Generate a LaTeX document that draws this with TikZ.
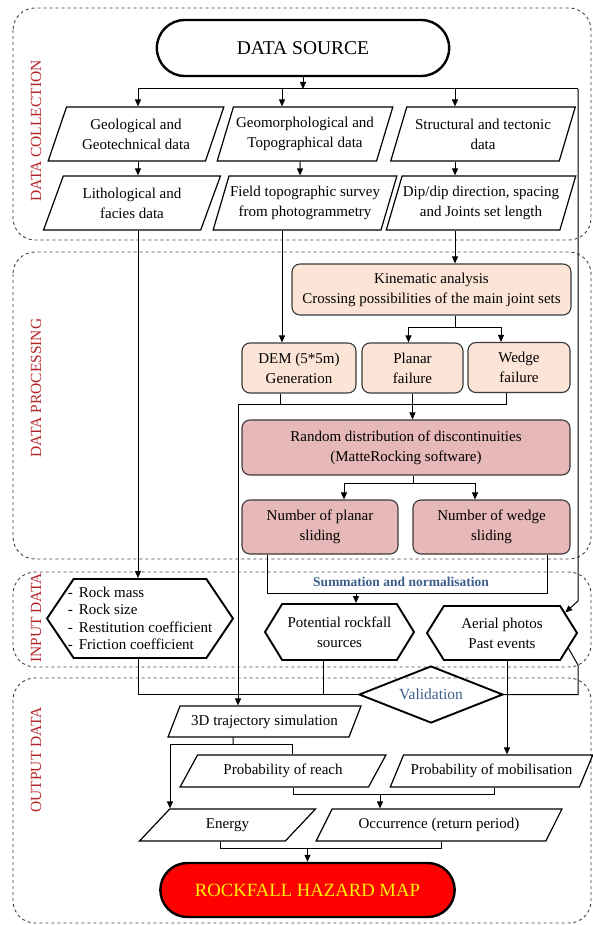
\documentclass[tikz,border=0pt]{standalone}
\usepackage{fontspec}
\setmainfont{Liberation Serif}
\usetikzlibrary{shapes.geometric, shapes.misc, shapes.symbols, arrows.meta, positioning}
\definecolor{peach}{HTML}{FCE4D6}
\definecolor{rose}{HTML}{E6B8B7}
\definecolor{labelred}{HTML}{B3262A}
\definecolor{noteblue}{HTML}{3B5E8C}
\definecolor{boxedge}{HTML}{3A3A3A}

\begin{document}
\begin{tikzpicture}[x=1pt, y=-1pt, line width=1pt]
\tikzset{
    >={Triangle[length=7pt,width=6pt]},
    every node/.style={font=\fontsize{15}{20}\selectfont, align=center},
    terminal/.style={rounded rectangle, draw, line width=2.4pt, minimum width=299, minimum height=56, font=\fontsize{19.5}{22}\selectfont},
    datapara/.style={trapezium, trapezium left angle=66, trapezium right angle=114, trapezium stretches=true, draw, line width=1.2pt, minimum height=54, inner sep=1pt},
    outpara/.style={datapara, trapezium left angle=52, trapezium right angle=128, minimum height=32},
    procbox/.style={draw=boxedge, rounded corners=8, line width=1.1pt, fill=peach},
    randbox/.style={procbox, fill=rose},
    hexbox/.style={signal, signal to=east and west, draw, line width=1.9pt, inner sep=1pt},
    zone/.style={draw=black!75, dashed, rounded corners=22, line width=0.9pt},
    zonelabel/.style={rotate=90, text=labelred, font=\fontsize{15.5}{17}\selectfont}
}
\useasboundingbox (0,0) rectangle (593,925);

% Zones
\draw[zone] (13,8) rectangle (591,240);
\draw[zone] (13,252) rectangle (591,559);
\draw[zone] (13,572) rectangle (591,667);
\draw[zone] (13,678) rectangle (591,923);
\node[zonelabel] (collabel) at (36,131) {DATA COLLECTION};
\node[zonelabel] (proclabel) at (36,388) {DATA PROCESSING};
\node[zonelabel] (inlabel) at (36,618) {INPUT DATA};
\node[zonelabel] (outlabel) at (36,760) {OUTPUT DATA};

% Data collection
\node[terminal] (src) at (303,48) {DATA SOURCE};
\node[datapara, minimum width=176] (geo) at (136,134) {Geological and\\Geotechnical data};
\node[datapara, minimum width=176] (geomorph) at (305,134) {Geomorphological and\\Topographical data};
\node[datapara, minimum width=185] (struct) at (483,134) {Structural and tectonic\\data};
\node[datapara, minimum width=177] (litho) at (132,203) {Lithological and\\facies data};
\node[datapara, minimum width=183] (survey) at (305,203) {Field topographic survey\\from photogrammetry};
\node[datapara, minimum width=190] (dip) at (481,203) {Dip/dip direction, spacing\\and Joints set length};

% Data processing
\node[procbox, minimum width=279, minimum height=51] (kine) at (431.5,289.5) {Kinematic analysis\\Crossing possibilities of the main joint sets};
\node[procbox, minimum width=114, minimum height=50] (dem) at (299,368) {DEM (5*5m)\\Generation};
\node[procbox, minimum width=101, minimum height=50] (planar) at (412.5,368) {Planar\\failure};
\node[procbox, minimum width=102, minimum height=50] (wedge) at (519,367.5) {Wedge\\failure};
\node[randbox, minimum width=328, minimum height=55] (random) at (406,447.5) {Random distribution of discontinuities\\(MatteRocking software)};
\node[randbox, minimum width=156, minimum height=54] (nplanar) at (320,527) {Number of planar\\sliding};
\node[randbox, minimum width=157, minimum height=54] (nwedge) at (491.5,527) {Number of wedge\\sliding};

% Input data
\node[hexbox, signal pointer angle=112, minimum width=186, minimum height=79, inner xsep=-6pt, align=left, font=\fontsize{15}{17.5}\selectfont] (rock) at (140,618.5)
    {-\hspace{6pt}Rock mass\\-\hspace{6pt}Rock size\\-\hspace{6pt}Restitution coefficient\\-\hspace{6pt}Friction coefficient};
\node[hexbox, signal pointer angle=117, minimum width=149, minimum height=56] (potential) at (339.5,632) {Potential rockfall\\sources};
\node[hexbox, signal pointer angle=116, minimum width=150, minimum height=54] (aerial) at (502,633) {Aerial photos\\Past events};
\node[diamond, draw, line width=1.9pt, aspect=2.5, minimum width=144, minimum height=57, text=noteblue, font=\fontsize{15.5}{17}\selectfont] (valid) at (431,694.5) {Validation};
\node[text=noteblue, font=\fontsize{13.5}{15}\selectfont\bfseries] (sumlabel) at (401,582) {Summation and normalisation};

% Output data
\node[outpara, trapezium left angle=56, trapezium right angle=124, minimum width=193, minimum height=31] (traj) at (264.5,721.5) {3D trajectory simulation};
\node[outpara, minimum width=206] (reach) at (283,771) {Probability of reach};
\node[outpara, minimum width=203] (mobil) at (491.5,771) {Probability of mobilisation};
\node[outpara, minimum width=177] (energy) at (227.5,825) {Energy};
\node[outpara, minimum width=246] (occur) at (439,825) {Occurrence (return period)};
\node[rounded rectangle, draw, line width=2.4pt, fill=red, text=yellow, minimum width=301, minimum height=54, font=\fontsize{18.7}{22}\selectfont] (map) at (307.5,890) {ROCKFALL HAZARD MAP};

% Junctions
\coordinate (hub) at (303,89);
\coordinate (forkL) at (138,89);
\coordinate (forkM) at (282,89);
\coordinate (forkS) at (455,89);
\coordinate (forkR) at (578,89);
\coordinate (bendR) at (578,601);
\coordinate (kineout) at (455,327);
\coordinate (joinL) at (238,404);
\coordinate (randout) at (413,483);
\coordinate (sumL) at (267,593);
\coordinate (sumR) at (547,593);
\coordinate (validL) at (323,694.5);
\coordinate (bendV) at (578,665);
\coordinate (trajout) at (233,744);
\coordinate (occL) at (293,794);
\coordinate (occR) at (494,794);
\coordinate (occin) at (380,794);
\coordinate (mapL) at (220,848);
\coordinate (mapR) at (441,848);

% Connectors
\draw[->] (src.south) -- (hub);
\draw (forkL) -- (forkR);
\draw[->] (forkL) -- (forkL |- geo.north);
\draw[->] (forkM) -- (forkM |- geomorph.north);
\draw[->] (forkS) -- (forkS |- struct.north);
\draw[->] (forkR) -- (bendR) -- (aerial.18);

\draw[->] (geo.south -| forkL) -- (litho.north -| forkL);
\draw[->] ([xshift=-5]geomorph.south) -- ([xshift=-5]survey.north);
\draw[->] (struct.south -| forkS) -- (dip.north -| forkS);

\draw[->] (litho.south -| forkL) -- (rock.north -| forkL);
\draw[->] (survey.south -| forkM) -- (dem.north -| forkM);
\draw[->] (dip.south -| forkS) -- (kine.north -| forkS);

\draw (kine.south -| kineout) -- (kineout);
\draw[->] (kineout) -| ([xshift=-4]planar.north);
\draw[->] (kineout) -| ([xshift=-18]wedge.north);

\draw ([xshift=-19]dem.south) |- (joinL);
\draw ([xshift=-13]wedge.south) |- (joinL);
\draw[->] (planar.south) -- (planar.south |- random.north);
\draw[->] (joinL) -- (joinL |- traj.north);

\draw (random.south -| randout) -- (randout);
\draw[->] (randout) -| ([xshift=24]nplanar.north);
\draw[->] (randout) -| ([xshift=-16.5]nwedge.north);

\draw (nplanar.south -| sumL) -- (sumL) -- (sumR) -- (nwedge.south -| sumR);
\draw[->] ([xshift=16.5]potential.north |- sumL) -- ([xshift=16.5]potential.north);

\draw (rock.south -| forkL) |- (valid.west);
\draw (potential.south -| validL) -- (validL);
\draw (aerial.-13) -- (bendV) |- (valid.east);
\draw[->] ([xshift=5]aerial.south) -- ([xshift=5]aerial.south |- mobil.north);

\draw ([xshift=-31.5]traj.south) -- (trajout);
\draw[->] (trajout) -| ([xshift=-57.5]energy.north);
\draw (trajout) -| ([xshift=9]reach.north);

\draw (reach.south -| occL) -- (occL) -- (occR) -- (mobil.south -| occR);
\draw[->] (occin) -- (occin |- occur.north);

\draw (energy.south -| mapL) -- (mapL) -- (mapR) -- (occur.south -| mapR);
\draw[->] (map.north |- mapL) -- (map.north);

\end{tikzpicture}
\end{document}
